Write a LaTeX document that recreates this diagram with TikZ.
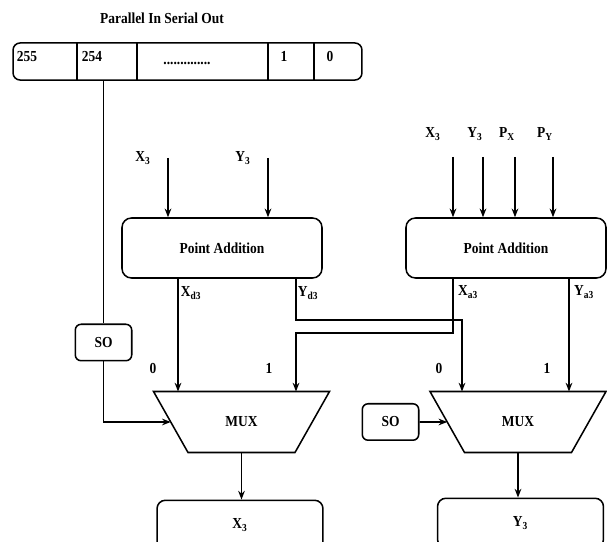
\documentclass[tikz,border=0pt]{standalone}
\usepackage{fontspec}
\setmainfont{Liberation Serif}[FakeStretch=0.88]
\usetikzlibrary{arrows.meta, calc}

\begin{document}
\begin{tikzpicture}[
    x=0.85pt, y=-0.85pt,
    line width=1.3pt,
    every node/.style={font=\bfseries\fontsize{13}{15}\selectfont},
    block/.style={rectangle, draw, rounded corners=8pt, minimum width=170pt, minimum height=51pt},
    sobox/.style={rectangle, draw, rounded corners=5pt, minimum width=48pt, minimum height=31pt},
    outbox/.style={rectangle, draw, rounded corners=7pt, minimum width=141pt, minimum height=42pt},
    arrow/.style={-{Stealth[length=2.6mm, width=2mm]}}
]
\useasboundingbox (0,0) rectangle (607,542);
\clip (0,0) rectangle (607,542);

\node (title) at (162,18) {Parallel In Serial Out};

% register
\node (reg) [draw, rounded corners=6pt, minimum width=296.6pt, minimum height=31.5pt] at (187.5,61.5) {};
\foreach \xx in {77,137,268,314}
    \draw (\xx,0 |- reg.north) -- (\xx,0 |- reg.south);
\node (c255) at (27,57) {255};
\node (c254) at (92,57) {254};
\node (cdots) at (187,63) {..............};
\node (c1) at (284,56) {1};
\node (c0) at (330,56) {0};

\node (pa1) [block] at (222,248) {Point Addition};
\node (pa2) [block] at (506,248) {Point Addition};

% multiplexers
\node (mux1) at (241.5,422) {MUX};
\node (mux2) at (518,422) {MUX};
\foreach \m in {mux1,mux2}
    \draw (\m) ++(-88,-30.5) coordinate (\m tl) -- ++(176,0) coordinate (\m tr)
        -- ++(-34.5,61) coordinate (\m br) -- ++(-107,0) coordinate (\m bl) -- cycle;
\coordinate (mux1in) at ($(mux1tl)!.5!(mux1bl)$);
\coordinate (mux2in) at ($(mux2tl)!.5!(mux2bl)$);
\coordinate (mux1out) at ($(mux1bl)!.5!(mux1br)$);
\coordinate (mux2out) at ($(mux2bl)!.5!(mux2br)$);

\node (so1) [sobox] at (103.5,342.5) {SO};
\node (so2) [sobox] at (390.5,422) {SO};

\node (outx) [outbox] at (240,525) {X\textsubscript{3}};
\node (outy) [outbox] at (520.5,523) {Y\textsubscript{3}};

% inputs
\coordinate (in1) at (168,158);
\coordinate (in2) at (268,158);
\node (lx1) at (143,158) {X\textsubscript{3}};
\node (ly1) at (243,158) {Y\textsubscript{3}};
\draw [arrow] (in1) -- (in1 |- pa1.north);
\draw [arrow] (in2) -- (in2 |- pa1.north);

\foreach \xa/\xl/\txt [count=\i] in {453/433/X\textsubscript{3}, 483/475/Y\textsubscript{3}, 515/507/P\textsubscript{X}, 553/545/P\textsubscript{Y}} {
    \coordinate (rin\i) at (\xa,157);
    \node (rl\i) at (\xl,134) {\txt};
    \draw [arrow] (rin\i) -- (rin\i |- pa2.north);
}

% outputs of point addition
\coordinate (xd) at (178,0);
\coordinate (yd) at (296,320);
\coordinate (xa) at (453,333);
\coordinate (xin) at (462,320);
\coordinate (ya) at (569,0);

\node (lxd) at (191,293) {X\textsubscript{d3}};
\node (lyd) at (308,293) {Y\textsubscript{d3}};
\node (lxa) at (468,292) {X\textsubscript{a3}};
\node (lya) at (584,292) {Y\textsubscript{a3}};

\draw [arrow] (pa1.south -| xd) -- (mux1tl -| xd);
\draw [arrow] (pa1.south -| yd) -- (yd) -- (xin) -- (mux2tl -| xin);
\draw [arrow] (pa2.south -| xa) -- (xa) -- (xa -| yd) -- (mux1tl -| yd);
\draw [arrow] (pa2.south -| ya) -- (mux2tl -| ya);

\node (m1a) at (153,368) {0};
\node (m1b) at (269,368) {1};
\node (m2a) at (439,368) {0};
\node (m2b) at (547,368) {1};

% select lines
\draw (reg.south -| so1) -- (so1.north);
\draw [arrow] (so1.south) |- (mux1in);
\draw [arrow] (so2.east) -- (mux2in);

\draw [arrow] (mux1out) -- (mux1out |- outx.north);
\draw [arrow] (mux2out) -- (mux2out |- outy.north);
\end{tikzpicture}
\end{document}
